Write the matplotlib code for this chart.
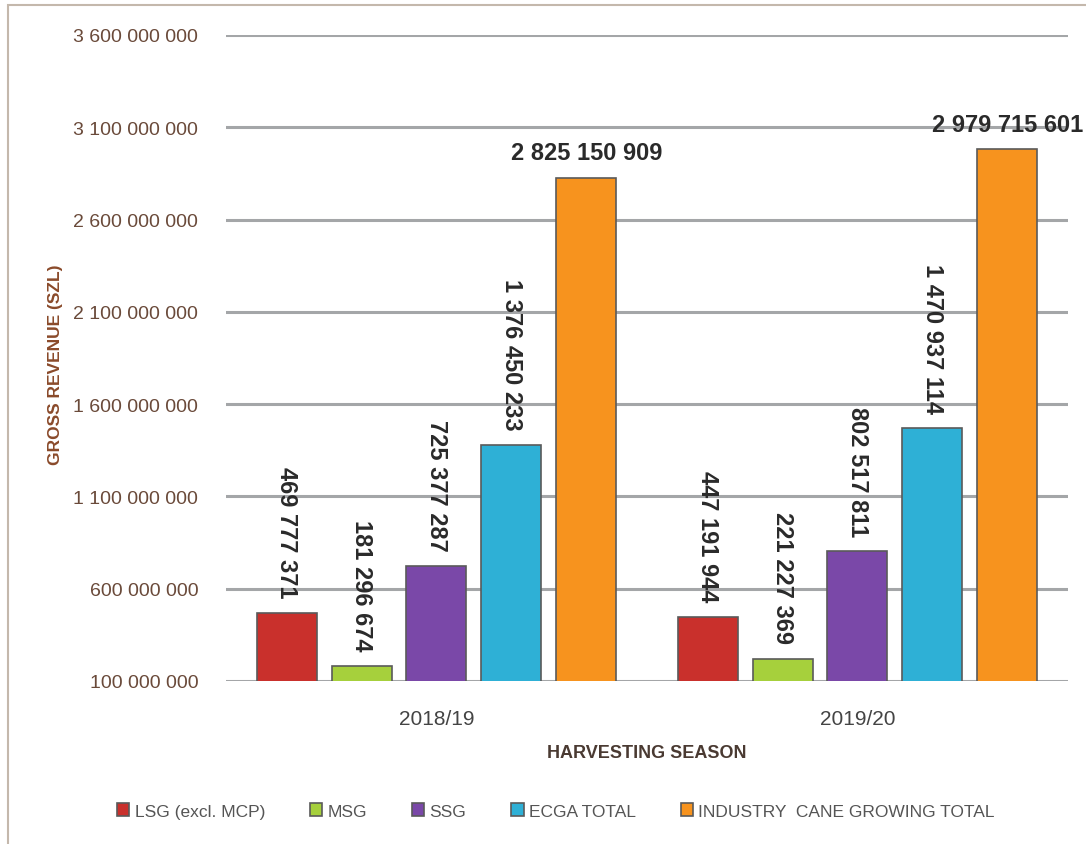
import numpy as np
import matplotlib
matplotlib.use("Agg")
import matplotlib.pyplot as plt
from matplotlib.patches import Rectangle

# gross revenue per grower category and season (SZL)
seasons = ["2018/19", "2019/20"]
categories = ["LSG (excl. MCP)", "MSG", "SSG", "ECGA TOTAL", "INDUSTRY  CANE GROWING TOTAL"]
lsg = [469777371, 447191944]
msg = [181296674, 221227369]
ssg = [725377287, 802517811]
ecga = [1376450233, 1470937114]
industry = [2825150909, 2979715601]
colors = ["#c9302c", "#a6d03c", "#7a48a8", "#2eb0d6", "#f7931e"]
yticks = [100000000, 600000000, 1100000000, 1600000000, 2100000000,
          2600000000, 3100000000, 3600000000]


def fmt(v):
    return f"{v:,}".replace(",", " ")


plt.rcParams["font.family"] = ["Liberation Sans", "DejaVu Sans"]

fig = plt.figure(figsize=(10.86, 8.45), dpi=100)
ax = fig.add_axes([0.2081, 0.1929, 0.7753, 0.7645])

series = [lsg, msg, ssg, ecga, industry]
x = np.arange(len(seasons))
width = 0.1425
step = 0.178

for yv in yticks:
    ax.axhline(yv, color="#a4a6a8", linewidth=2.2, zorder=0)

for i, (vals, col) in enumerate(zip(series, colors)):
    pos = x + (i - 2) * step
    ax.bar(pos, vals, width, color=col, edgecolor="#5a5a5a", linewidth=1.2,
           label=categories[i], zorder=3)
    for px, v in zip(pos, vals):
        if i == 4:
            ax.annotate(fmt(v), (px, v), xytext=(0, 10), textcoords="offset points",
                        ha="center", va="bottom", fontsize=17, fontweight="bold",
                        color="#2a2a2a", zorder=4, annotation_clip=False)
        else:
            ax.annotate(fmt(v), (px, v), xytext=(0, 11), textcoords="offset points",
                        ha="center", va="bottom", rotation=270, fontsize=17,
                        fontweight="bold", color="#2a2a2a", zorder=4)

ax.set_xlim(-0.5, 1.5)
ax.set_ylim(100000000, 3600000000)
ax.set_yticks(yticks)
ax.set_yticklabels([fmt(v) for v in yticks], fontsize=14, color="#6a4a3a")
ax.set_xticks(x)
ax.set_xticklabels(seasons, fontsize=15, color="#444444")
ax.tick_params(axis="y", length=0, pad=20)
ax.tick_params(axis="x", length=0, pad=20)
for s in ax.spines.values():
    s.set_visible(False)

ax.set_xlabel("HARVESTING SEASON", fontsize=13, fontweight="bold",
              color="#4a3a32", labelpad=12)
fig.text(0.051, 0.568, "GROSS REVENUE (SZL)", rotation=90, ha="center",
         va="center", fontsize=12.5, fontweight="bold", color="#8a4a2a")

handles, labels = ax.get_legend_handles_labels()
fig.legend(handles, labels, loc="center", bbox_to_anchor=(0.512, 0.039),
           ncol=5, frameon=False, fontsize=12.5, labelcolor="#555555",
           handlelength=0.7, handleheight=0.7, handletextpad=0.3,
           columnspacing=2.6)

# outer frame of the chart area
fig.patches.append(Rectangle((0.007, -0.05), 1.2, 1.043, transform=fig.transFigure,
                             fill=False, edgecolor="#c4b8ac", linewidth=1.5))

fig.savefig("out.png", dpi=100)
